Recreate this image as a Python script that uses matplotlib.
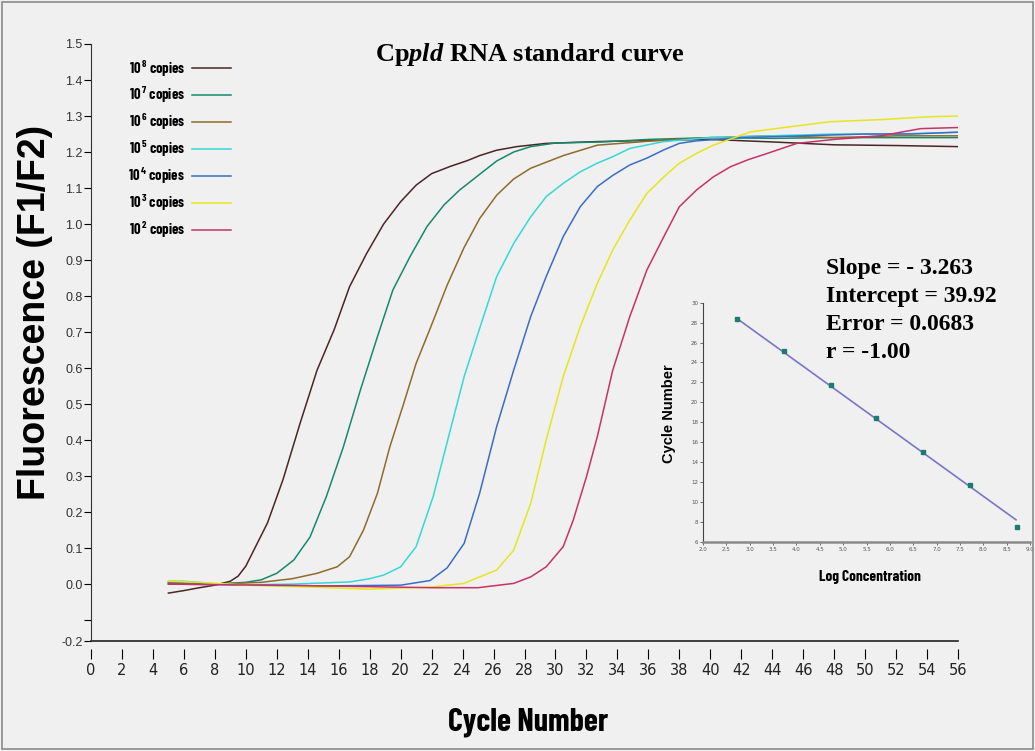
import matplotlib
matplotlib.use("Agg")
import matplotlib.pyplot as plt
from matplotlib.patches import Rectangle
import numpy as np

# amplification curves: cycle number vs fluorescence (F1/F2)
c_e8 = [5, 6, 7, 8, 9, 9.5, 10, 10.7, 11.4, 12.4, 13.5, 14.6, 15.7, 16.7, 17.8, 18.9, 20, 21, 22,
        23.2, 24.3, 25.1, 26.2, 27.5, 29.4, 32.7, 36, 40, 44, 48, 52, 56]
v_e8 = [-0.025, -0.018, -0.01, -0.003, 0.008, 0.022, 0.05, 0.11, 0.17, 0.29, 0.446, 0.594, 0.706,
        0.826, 0.918, 1.0, 1.062, 1.108, 1.14, 1.16, 1.176, 1.19, 1.205, 1.215, 1.224, 1.229, 1.232,
        1.235, 1.228, 1.22, 1.218, 1.215]

c_e7 = [5, 8, 10, 11, 12, 13.1, 14.15, 15.2, 16.3, 17.4, 18.5, 19.5, 20.6, 21.7, 22.8, 23.8, 25.1,
        26.2, 27.3, 28.4, 30, 33, 36, 40, 44, 48, 52, 56]
v_e7 = [0.003, 0.0, 0.005, 0.012, 0.03, 0.067, 0.131, 0.243, 0.381, 0.539, 0.687, 0.817, 0.909,
        0.993, 1.053, 1.094, 1.138, 1.175, 1.2, 1.215, 1.225, 1.228, 1.235, 1.24, 1.238, 1.24, 1.24, 1.24]

c_e6 = [5, 8, 11, 13, 14.6, 15.9, 16.7, 17.6, 18.5, 19.3, 20.2, 21.0, 22.0, 23.0, 24.1, 25.1, 26.2,
        27.3, 28.4, 30.5, 32.7, 36, 40, 44, 48, 52, 56]
v_e6 = [0.005, 0.0, 0.005, 0.015, 0.03, 0.048, 0.076, 0.15, 0.252, 0.381, 0.502, 0.613, 0.72, 0.83,
        0.935, 1.015, 1.08, 1.125, 1.155, 1.19, 1.219, 1.23, 1.24, 1.245, 1.24, 1.245, 1.245]

c_e5 = [5, 6, 7, 8, 10, 13, 16.7, 18, 18.9, 20, 21, 22.1, 23.1, 24.1, 25.1, 26.2, 27.3, 28.4, 29.4,
        30.5, 31.6, 32.7, 33.7, 34.8, 37, 40, 44, 48, 52, 56]
v_e5 = [0.008, 0.008, 0.005, 0.0, -0.002, 0.0, 0.006, 0.015, 0.025, 0.048, 0.104, 0.243, 0.41,
        0.576, 0.71, 0.854, 0.946, 1.02, 1.076, 1.113, 1.145, 1.169, 1.187, 1.21, 1.229, 1.24,
        1.245, 1.25, 1.25, 1.255]

c_e4 = [5, 10, 15, 20, 21.9, 23.0, 24.1, 25.1, 26.2, 27.3, 28.4, 29.4, 30.5, 31.6, 32.7, 33.7,
        34.8, 35.9, 37, 38, 39.1, 42, 46, 50, 53, 56]
v_e4 = [0.0, -0.002, -0.005, -0.003, 0.01, 0.045, 0.113, 0.252, 0.437, 0.594, 0.743, 0.854, 0.965,
        1.048, 1.104, 1.135, 1.164, 1.183, 1.206, 1.224, 1.231, 1.24, 1.245, 1.25, 1.25, 1.255]

c_e3 = [5, 7, 10, 14, 18, 22, 24.1, 25.1, 26.2, 27.3, 28.4, 29.4, 30.5, 31.6, 32.7, 33.7, 34.8,
        35.9, 37, 38, 39.1, 40.2, 42.6, 44.4, 47.7, 51, 54.2, 56]
v_e3 = [0.008, 0.005, -0.003, -0.008, -0.014, -0.008, 0.002, 0.02, 0.039, 0.094, 0.224, 0.4, 0.576,
        0.715, 0.835, 0.928, 1.011, 1.085, 1.131, 1.169, 1.196, 1.219, 1.256, 1.266, 1.284, 1.29,
        1.298, 1.3]

c_e2 = [5, 15, 22, 25, 27.3, 28.4, 29.4, 30.5, 31.15, 32.0, 32.7, 33.7, 34.8, 35.9, 37, 38, 39.1,
        40.2, 41.3, 42.4, 43.6, 45.6, 48, 51, 53.6, 56]
v_e2 = [0.0, -0.005, -0.01, -0.01, 0.002, 0.02, 0.048, 0.104, 0.178, 0.298, 0.409, 0.594, 0.743,
        0.872, 0.965, 1.048, 1.094, 1.131, 1.159, 1.178, 1.195, 1.224, 1.235, 1.245, 1.265, 1.268]

series_labels = ["8", "7", "6", "5", "4", "3", "2"]
series_colors = ["#4a2626", "#16896b", "#8f6b2c", "#35d8d8", "#3b6cc6", "#e6e61e", "#c83268"]

# standard curve inset
log_conc = [2.73, 3.73, 4.73, 5.71, 6.71, 7.72, 8.72]
ct_values = [28.33, 25.12, 21.74, 18.4, 15.04, 11.7, 7.5]
fit_x = [2.73, 8.7]
fit_y = [28.4, 8.2]

stats = ["Slope = - 3.263", "Intercept = 39.92", "Error = 0.0683", "r = -1.00"]

bg = "#f0f0f0"
narrow = ["Barlow Condensed", "DejaVu Sans"]
sans = ["Liberation Sans", "DejaVu Sans"]
plt.rcParams["mathtext.fontset"] = "custom"
plt.rcParams["mathtext.rm"] = "Liberation Serif:bold"
plt.rcParams["mathtext.bf"] = "Liberation Serif:bold"
plt.rcParams["mathtext.it"] = "Liberation Serif:italic:bold"

fig = plt.figure(figsize=(10.35, 7.51), dpi=100, facecolor=bg)
fig.patches.append(Rectangle((0.002, 0.002), 0.996, 0.996, transform=fig.transFigure,
                             fill=False, edgecolor="#8a8a8a", lw=1.2))

W, H = 1035, 751
ax = fig.add_axes([91 / W, 110 / H, 867 / W, 597 / H])
ax.set_facecolor(bg)

all_c = [c_e8, c_e7, c_e6, c_e5, c_e4, c_e3, c_e2]
all_v = [v_e8, v_e7, v_e6, v_e5, v_e4, v_e3, v_e2]
handles = []
for cx, vy, lab, col in zip(all_c, all_v, series_labels, series_colors):
    ln, = ax.plot(cx, vy, color=col, lw=1.1, label=r"$\mathregular{10^{\,%s}}$ copies" % lab)
    handles.append(ln)

y_bottom = -0.158
ax.set_xlim(0, 56)
ax.set_ylim(y_bottom, 1.5)
yt = [y_bottom, -0.1] + [round(0.1 * i, 1) for i in range(16)]
ax.set_yticks(yt)
ax.set_yticklabels(["-0.2", ""] + ["%.1f" % t for t in yt[2:]])
ax.set_xticks(range(0, 57, 2))
ax.tick_params(axis="y", direction="out", length=5, pad=1, labelsize=9, labelcolor="#333333")
ax.tick_params(axis="x", direction="out", length=7, pad=3, labelsize=10.5, labelcolor="#222222")
for t in ax.get_yticklabels():
    t.set_family(sans)
for t in ax.get_xticklabels():
    t.set_family(["DejaVu Sans"])
    t.set_fontstretch("condensed")
ax.spines["top"].set_visible(False)
ax.spines["right"].set_visible(False)
ax.spines["bottom"].set_position(("outward", 6))
ax.spines["bottom"].set_visible(False)
ax.plot([0, 1], [0, 0], transform=ax.transAxes, color="#222222", lw=1.2, clip_on=False)
ax.spines["left"].set_color("#333333")

fig.text(35 / W, 1 - 312 / H, "Fluorescence (F1/F2)", rotation=90, ha="center", va="center",
         fontsize=27, fontweight="bold", family=sans)
fig.text(528 / W, 1 - 722 / H, "Cycle Number", ha="center", va="center",
         fontsize=23, fontweight="bold", family=narrow)
fig.text(530 / W, 1 - 54 / H, r"Cp$\mathit{pld}$ RNA standard curve", ha="center", va="center",
         fontsize=19, fontweight="bold", family="Liberation Serif")

leg = ax.legend(handles=handles, loc="upper left", bbox_to_anchor=(121 / W, 1 - 51 / H),
                bbox_transform=fig.transFigure, frameon=False, markerfirst=False,
                handlelength=2.7, handletextpad=0.45, labelspacing=0.45, borderpad=0,
                prop={"family": narrow, "weight": "bold", "size": 10.5})

for i, s in enumerate(stats):
    fig.text(826 / W, 1 - (268 + 28.3 * i) / H, s, ha="left", va="center",
             fontsize=17, fontweight="bold", family="Liberation Serif")

# inset: standard curve
ins = fig.add_axes([703 / W, 1 - 541.7 / H, 327 / W, 239 / H])
ins.set_facecolor("none")
ins.plot(fit_x, fit_y, color="#7876c6", lw=1.2)
ins.plot(log_conc, ct_values, "s", color="#1d7c70", ms=2.6)
ins.set_xlim(2, 9)
ins.set_ylim(6, 30)
ins.set_xticks(np.arange(2, 9.01, 0.5))
ins.set_xticklabels(["%.1f" % t for t in np.arange(2, 9.01, 0.5)])
ins.set_yticks(range(6, 31, 2))
ins.tick_params(labelsize=4, colors="#555555", length=2.5, width=0.6, pad=1)
ins.spines["top"].set_visible(False)
ins.spines["right"].set_visible(False)
ins.spines["left"].set_color("#444444")
ins.spines["left"].set_linewidth(0.8)
ins.spines["bottom"].set_color("#8a8a8a")
ins.spines["bottom"].set_linewidth(1.8)
fig.text(669 / W, 1 - 414 / H, "Cycle Number", rotation=90, ha="center", va="center",
         fontsize=10.5, fontweight="bold", family=sans)
fig.text(870 / W, 1 - 577 / H, "Log Concentration", ha="center", va="center",
         fontsize=11, fontweight="bold", family=narrow)

fig.savefig("out.png", dpi=100, facecolor=bg)
